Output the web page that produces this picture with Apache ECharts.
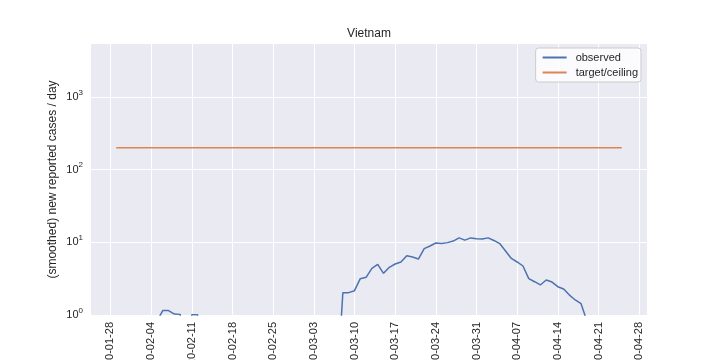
<!DOCTYPE html>
<html>
<head>
<meta charset="utf-8">
<script src="https://cdn.jsdelivr.net/npm/echarts@6/dist/echarts.min.js"></script>
<style>
  html, body { margin: 0; padding: 0; background: #ffffff; }
  #chart { width: 720px; height: 360px; }
</style>
</head>
<body>
<div id="chart"></div>
<script>
// ---- data ----
const title = "Vietnam";
const yAxisName = "(smoothed) new reported cases / day";
const seriesNames = ["observed", "target/ceiling"];
const startDate = "2020-01-29"; // first day of the series
const observed = [
  0.3, 0.3, 0.3, 0.4, 0.5, 0.5, 0.6,            // 01-29 .. 02-04
  0.82, 1.15, 1.15, 1.03, 1.02, 0.1, 1.01, 1.01, // 02-05 .. 02-12
  0.1, 0.1, 0.1, 0.1, 0.1, 0.1, 0.1, 0.1, 0.1, 0.1, 0.1, 0.1, // 02-13 .. 02-24
  0.1, 0.1, 0.1, 0.1, 0.1, 0.1, 0.1, 0.1, 0.1, 0.1, 0.1,      // 02-25 .. 03-06
  0.1,                                           // 03-07
  2.03, 2.03, 2.16, 3.16, 3.3, 4.39, 4.98, 3.74, 4.53, 5.03, // 03-08 .. 03-17
  5.36, 6.55, 6.28, 5.89, 8.17, 8.9, 9.78, 9.6, 9.9, 10.4,   // 03-18 .. 03-27
  11.5, 10.7, 11.5, 11.2, 11.1, 11.5, 10.6, 9.6, 7.6, 6.0,   // 03-28 .. 04-06
  5.36, 4.72, 3.16, 2.87, 2.59, 3.03, 2.84, 2.45, 2.28, 1.88, // 04-07 .. 04-16
  1.61, 1.43, 0.83, 0.5, 0.4, 0.3, 0.3, 0.2, 0.2             // 04-17 .. 04-25
];
const targetValue = 200;
const xTickLabels = ["2020-01-28","2020-02-04","2020-02-11","2020-02-18","2020-02-25",
  "2020-03-03","2020-03-10","2020-03-17","2020-03-24","2020-03-31","2020-04-07",
  "2020-04-14","2020-04-21","2020-04-28"];
const yTicks = [1, 10, 100, 1000];
const yMin = 1, yMax = 5340;

// ---- build ----
const DAY = 86400000;
const t0 = Date.parse(startDate + "T00:00:00Z");
const dates = observed.map((_, i) => t0 + i * DAY);
const obsData = observed.map((v, i) => [dates[i], v]);
const tgtData = dates.map(d => [d, targetValue]);
const span = dates[dates.length - 1] - dates[0];
const xMin = dates[0] - 0.05 * span;
const xMax = dates[dates.length - 1] + 0.05 * span;
const xTicks = xTickLabels.map(s => Date.parse(s + "T00:00:00Z"));

function fmtDate(v) {
  const d = new Date(v);
  const m = String(d.getUTCMonth() + 1).padStart(2, "0");
  const dd = String(d.getUTCDate()).padStart(2, "0");
  return d.getUTCFullYear() + "-" + m + "-" + dd;
}

const FONT = "Liberation Sans, Arial, sans-serif";
const TXT = "#262626";
const chart = echarts.init(document.getElementById("chart"), null, { renderer: "canvas" });
chart.setOption({
  animation: false,
  backgroundColor: "#ffffff",
  title: {
    text: title, left: 369, top: 28, padding: 0, textAlign: "center",
    textStyle: { fontFamily: FONT, fontSize: 12, fontWeight: "normal", color: TXT }
  },
  grid: { left: 91, right: 73, top: 44, bottom: 45, show: true, backgroundColor: "#EAEAF2",
          borderWidth: 0, containLabel: false, outerBoundsMode: "none" },
  legend: {
    orient: "vertical", right: 79, top: 48,
    itemWidth: 24, itemHeight: 12, itemGap: 4,
    padding: [4, 3, 4, 6],
    backgroundColor: "rgba(255,255,255,0.8)", borderColor: "#cccccc", borderWidth: 1, borderRadius: 3,
    itemStyle: { opacity: 0 },
    textStyle: { fontFamily: FONT, fontSize: 11, color: TXT, padding: [0, 0, 0, 4] },
    data: seriesNames
  },
  xAxis: {
    type: "value", min: xMin, max: xMax,
    axisLine: { show: false },
    axisTick: { show: false, customValues: xTicks },
    splitLine: { show: true, lineStyle: { color: "#ffffff", width: 1 } },
    axisLabel: {
      customValues: xTicks, rotate: 90, margin: 7,
      fontFamily: FONT, fontSize: 11, color: TXT,
      formatter: v => fmtDate(v)
    }
  },
  yAxis: {
    type: "log", logBase: 10, min: yMin, max: yMax,
    name: yAxisName, nameLocation: "middle", nameRotate: 90, nameGap: 32, nameMoveOverlap: false,
    nameTextStyle: { fontFamily: FONT, fontSize: 12, color: TXT },
    axisLine: { show: false },
    axisTick: { show: false, customValues: yTicks },
    splitLine: { show: true, lineStyle: { color: "#ffffff", width: 1 } },
    axisLabel: {
      customValues: yTicks, margin: 8,
      formatter: v => "{b|10}{s|" + Math.round(Math.log10(v)) + "}",
      rich: {
        b: { fontFamily: FONT, fontSize: 11, color: TXT },
        s: { fontFamily: FONT, fontSize: 8, color: TXT, padding: [0, 0, 9, 0] }
      }
    }
  },
  series: [
    { name: seriesNames[0], type: "line", data: obsData, symbol: "none", clip: true,
      lineStyle: { color: "#4C72B0", width: 1.5 }, itemStyle: { color: "#4C72B0" } },
    { name: seriesNames[1], type: "line", data: tgtData, symbol: "none", clip: true,
      lineStyle: { color: "#DD8452", width: 1.5 }, itemStyle: { color: "#DD8452" } }
  ]
});
</script>
</body>
</html>
